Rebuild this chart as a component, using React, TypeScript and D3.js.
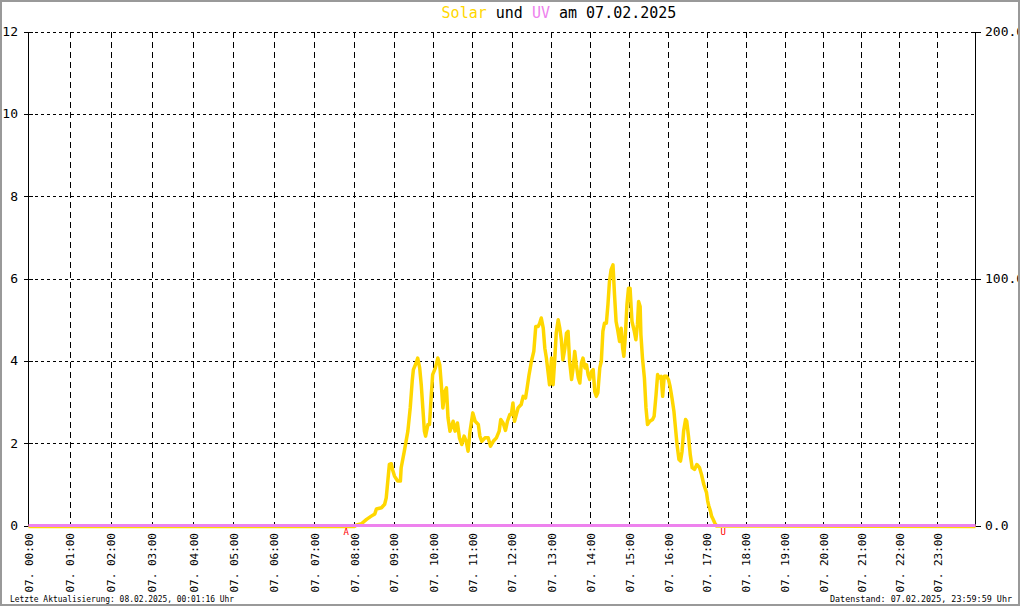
import React from 'react';
import * as d3 from 'd3';

const WIDTH = 1020;
const HEIGHT = 606;
const DAY = '07.';
const DATE = '07.02.2025';

// x-axis: hour ticks and the slight irregular spacing of the original axis
const hourTicks = d3.range(0, 24);
const axisWarpHours = [0, 4, 8, 14, 20, 24];
const axisWarpEffective = [0, 4.171, 8.258, 14.242, 20.144, 24];

// left axis (UV index) and right axis (solar W/m²)
const uvTicks = [0, 2, 4, 6, 8, 10, 12];
const solarTicks = [0, 100, 200];

// sunrise (A) / sunset (U) in hours
const sunriseHour = 7.8;
const sunsetHour = 17.42;

// solar radiation, W/m²
const solarHours = [
  0, 8.0, 8.06, 8.18, 8.31, 8.43, 8.52, 8.56, 8.69, 8.77, 8.81, 8.85, 8.89, 8.94, 8.97,
  9.02, 9.10, 9.17, 9.19, 9.27, 9.36, 9.42, 9.47, 9.50, 9.57, 9.61, 9.66, 9.70, 9.74, 9.78,
  9.81, 9.87, 9.91, 9.95, 9.99, 10.06, 10.12, 10.17, 10.21, 10.25, 10.30, 10.34, 10.38, 10.43,
  10.51, 10.56, 10.62, 10.67, 10.73, 10.79, 10.84, 10.89, 10.94, 11.01, 11.07, 11.15, 11.19,
  11.24, 11.32, 11.40, 11.46, 11.53, 11.61, 11.68, 11.72, 11.78, 11.84, 11.89, 11.95, 11.99,
  12.03, 12.07, 12.16, 12.24, 12.29, 12.35, 12.39, 12.44, 12.50, 12.56, 12.61, 12.67, 12.71,
  12.75, 12.80, 12.84, 12.88, 12.92, 12.96, 13.01, 13.05, 13.09, 13.13, 13.18, 13.22, 13.26,
  13.30, 13.35, 13.39, 13.43, 13.47, 13.52, 13.56, 13.60, 13.64, 13.69, 13.73, 13.77, 13.81,
  13.86, 13.90, 13.94, 13.98, 14.03, 14.07, 14.11, 14.15, 14.19, 14.24, 14.28, 14.32, 14.36,
  14.41, 14.45, 14.49, 14.53, 14.58, 14.62, 14.66, 14.70, 14.75, 14.79, 14.83, 14.86, 14.90,
  14.94, 14.98, 15.02, 15.07, 15.13, 15.17, 15.21, 15.24, 15.28, 15.30, 15.34, 15.39, 15.43,
  15.47, 15.53, 15.60, 15.64, 15.69, 15.73, 15.77, 15.82, 15.86, 15.90, 15.96, 16.01, 16.05,
  16.10, 16.15, 16.19, 16.23, 16.28, 16.32, 16.36, 16.40, 16.45, 16.48, 16.53, 16.57, 16.62,
  16.68, 16.74, 16.81, 16.86, 16.92, 16.99, 17.02, 17.05, 17.09, 17.12, 17.16, 17.20, 17.25, 24,
];
const solarValues = [
  0, 0, 0.6, 1.1, 2.9, 4.2, 5.1, 7.1, 7.6, 9.0, 11.6, 18.4, 25.1, 25.4, 23.1,
  20.4, 18.4, 18.4, 23.8, 30.5, 38.6, 48.0, 58.8, 63.5, 66.2, 68.2, 64.2, 57.4, 48.0, 38.6,
  36.6, 41.3, 41.3, 52.0, 61.5, 64.2, 68.2, 65.5, 57.4, 48.0, 54.7, 56.1, 44.0, 38.6,
  42.6, 38.6, 41.9, 35.9, 33.2, 36.6, 34.6, 30.5, 38.6, 46.0, 42.6, 41.3, 36.6,
  34.5, 35.9, 35.9, 32.5, 34.5, 35.9, 38.6, 43.3, 41.9, 38.9, 42.6, 45.3, 45.3,
  50.0, 42.6, 48.0, 49.4, 52.7, 52.0, 56.1, 61.5, 66.9, 70.9, 81.0, 81.0, 82.3,
  84.4, 80.3, 72.2, 68.2, 62.8, 57.4, 68.2, 57.4, 66.9, 78.3, 83.7, 80.3, 75.6,
  67.5, 72.2, 78.3, 79.0, 66.9, 59.5, 64.2, 70.9, 65.5, 60.1, 58.1, 66.2, 68.2,
  64.2, 65.5, 61.5, 59.5, 62.8, 63.5, 54.7, 52.7, 54.1, 64.2, 66.9, 79.0, 82.3,
  82.3, 89.8, 99.2, 103.9, 105.9, 93.8, 83.0, 79.7, 74.9, 80.3, 72.2, 68.9, 77.6,
  89.8, 96.5, 96.5, 83.0, 79.0, 75.6, 81.7, 91.1, 89.1, 77.6, 68.2, 60.1, 48.0,
  41.3, 42.6, 43.3, 44.6, 53.4, 61.5, 60.1, 60.8, 52.7, 60.8, 60.8, 59.5, 56.8,
  52.0, 46.7, 39.9, 33.2, 27.1, 26.5, 30.5, 38.6, 43.3, 42.6, 35.9, 29.2, 23.8,
  23.1, 25.1, 23.8, 21.1, 17.0, 13.7, 10.3, 8.3, 6.3, 4.2, 2.9, 1.5, 0.2, 0,
];

// UV index
const uvHours = [0, 24];
const uvValues = [0, 0];

const SOLAR_COLOR = '#FFD700';
const UV_COLOR = '#EE82EE';
const FONT = '"DejaVu Sans Mono", "Liberation Mono", monospace';

export default function App() {
  const left = 28.5;
  const right = 975.5;
  const top = 31.5;
  const bottom = 525.5;

  const xLin = d3.scaleLinear().domain([0, 24]).range([left, right]);
  const x = d3
    .scaleLinear()
    .domain(axisWarpHours)
    .range(axisWarpEffective.map((v) => xLin(v)));
  const yUV = d3.scaleLinear().domain([0, 12]).range([bottom, top]);
  const ySolar = d3.scaleLinear().domain([0, 200]).range([bottom, top]);

  const solarLine = d3
    .line<number>()
    .x((_, i) => x(solarHours[i]))
    .y((d) => ySolar(d));
  const uvLine = d3
    .line<number>()
    .x((_, i) => x(uvHours[i]))
    .y((d) => yUV(d));

  const pad = (n: number) => String(n).padStart(2, '0');

  return (
    <svg
      width={WIDTH}
      height={HEIGHT}
      style={{ position: 'absolute', left: 0, top: 0, background: '#fff' }}
      fontFamily={FONT}
    >
      <rect x={0} y={0} width={WIDTH} height={HEIGHT} fill="#fff" />

      {/* title */}
      <text x={559} y={18} textAnchor="middle" fontSize={15} fill="#000">
        <tspan fill={SOLAR_COLOR}>Solar</tspan>
        <tspan> und </tspan>
        <tspan fill={UV_COLOR}>UV</tspan>
        <tspan> am {DATE}</tspan>
      </text>

      {/* horizontal dotted grid */}
      {uvTicks.slice(1).map((t) => (
        <line
          key={'hg' + t}
          x1={left}
          x2={right}
          y1={Math.round(yUV(t)) + 0.5}
          y2={Math.round(yUV(t)) + 0.5}
          stroke="#000"
          strokeWidth={1}
          strokeDasharray="3,3"
          shapeRendering="crispEdges"
        />
      ))}

      {/* vertical dashed grid */}
      {hourTicks.slice(1).map((h) => (
        <line
          key={'vg' + h}
          x1={Math.round(x(h)) + 0.5}
          x2={Math.round(x(h)) + 0.5}
          y1={top}
          y2={bottom}
          stroke="#000"
          strokeWidth={1}
          strokeDasharray="6,4"
          shapeRendering="crispEdges"
        />
      ))}

      {/* axes */}
      <line x1={left} x2={left} y1={top} y2={bottom} stroke="#000" shapeRendering="crispEdges" />
      <line x1={right} x2={right} y1={top} y2={bottom} stroke="#000" shapeRendering="crispEdges" />

      {/* left ticks + labels */}
      {uvTicks.map((t) => (
        <g key={'lt' + t}>
          <line
            x1={left - 5}
            x2={left + 4}
            y1={Math.round(yUV(t)) + 0.5}
            y2={Math.round(yUV(t)) + 0.5}
            stroke="#000"
            shapeRendering="crispEdges"
          />
          <text
            x={18}
            y={yUV(t)}
            textAnchor="end"
            dominantBaseline="central"
            fontSize={13}
            fill="#000"
          >
            {t}
          </text>
        </g>
      ))}

      {/* right ticks + labels */}
      {solarTicks.map((t) => (
        <g key={'rt' + t}>
          <line
            x1={right - 5}
            x2={right + 5}
            y1={Math.round(ySolar(t)) + 0.5}
            y2={Math.round(ySolar(t)) + 0.5}
            stroke="#000"
            shapeRendering="crispEdges"
          />
          <text
            x={985}
            y={ySolar(t)}
            dominantBaseline="central"
            fontSize={13}
            fill="#000"
          >
            {t.toFixed(1)}
          </text>
        </g>
      ))}

      {/* x labels (rotated) */}
      {hourTicks.map((h) => (
        <text
          key={'xl' + h}
          transform={`translate(${x(h) + 1},533) rotate(-90)`}
          textAnchor="end"
          dominantBaseline="central"
          fontSize={11}
          fill="#000"
        >
          {`${DAY} ${pad(h)}:00`}
        </text>
      ))}

      {/* solar line */}
      <g transform="translate(0,1)">
        <path
          d={solarLine(solarValues) || ''}
          fill="none"
          stroke={SOLAR_COLOR}
          strokeWidth={3.5}
          strokeLinejoin="round"
        />
      </g>

      {/* UV line */}
      <path d={uvLine(uvValues) || ''} fill="none" stroke={UV_COLOR} strokeWidth={3} />

      {/* sunrise / sunset markers */}
      <text x={x(sunriseHour)} y={532} textAnchor="middle" dominantBaseline="central" fontSize={9} fill="#ff0000">
        A
      </text>
      <text x={x(sunsetHour)} y={532} textAnchor="middle" dominantBaseline="central" fontSize={9} fill="#ff0000">
        U
      </text>

      {/* footer */}
      <text x={10} y={602} fontSize={8.5} fill="#000" textLength={224} lengthAdjust="spacingAndGlyphs">
        Letzte Aktualisierung: 08.02.2025, 00:01:16 Uhr
      </text>
      <text x={1012} y={602} textAnchor="end" fontSize={8.5} fill="#000" textLength={182} lengthAdjust="spacingAndGlyphs">
        Datenstand: 07.02.2025, 23:59:59 Uhr
      </text>

      {/* frame */}
      <rect x={1} y={1} width={WIDTH - 2} height={HEIGHT - 2} fill="none" stroke="#999" strokeWidth={2} />
    </svg>
  );
}
